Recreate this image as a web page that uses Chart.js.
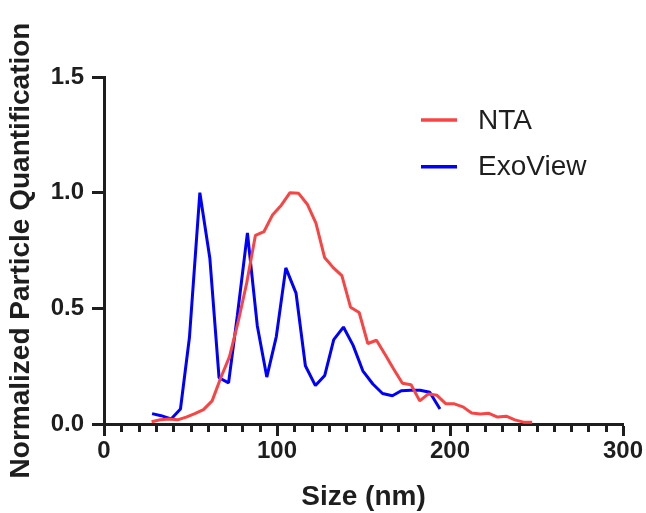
<!DOCTYPE html>
<html>
<head>
<meta charset="utf-8">
<script src="https://cdn.jsdelivr.net/npm/chart.js@4/dist/chart.umd.min.js"></script>
<style>
  body { margin: 0; background: #fff; }
  #wrap { width: 646px; height: 513px; }
</style>
</head>
<body>
<div id="wrap"><canvas id="chart" width="646" height="513"></canvas></div>
<script>
// NTA size distribution (5 nm bins)
var ntaSize = [27.5, 32.5, 37.5, 42.5, 47.5, 52.5, 57.5, 62.5, 67.5, 72.5, 77.5, 82.5, 87.5, 92.5, 97.5,
  102.5, 107.5, 112.5, 117.5, 122.5, 127.5, 132.5, 137.5, 142.5, 147.5, 152.5, 157.5, 162.5, 167.5, 172.5,
  177.5, 182.5, 187.5, 192.5, 197.5, 202.5, 207.5, 212.5, 217.5, 222.5, 227.5, 232.5, 237.5, 242.5, 247.5];
var ntaValue = [0.01, 0.018, 0.022, 0.018, 0.03, 0.045, 0.062, 0.1, 0.2, 0.29, 0.44, 0.61, 0.815, 0.832, 0.905,
  0.946, 1.0, 0.997, 0.95, 0.868, 0.72, 0.676, 0.641, 0.505, 0.482, 0.348, 0.362, 0.3, 0.237, 0.176,
  0.17, 0.1, 0.13, 0.124, 0.088, 0.087, 0.074, 0.048, 0.043, 0.046, 0.03, 0.034, 0.018, 0.008, 0.008];

// ExoView size distribution
var exoSize = [27.8, 33, 38.8, 44.2, 49.4, 55.4, 61.2, 66.5, 72, 77.1, 82.9, 88.6, 94.1, 99.6, 105.1,
  111, 116.4, 122.2, 127.6, 132.8, 138.4, 144, 149.6, 155.4, 161, 166.7, 171.8, 177.3, 182.7, 188.3, 194.2];
var exoValue = [0.045, 0.036, 0.022, 0.065, 0.375, 1.0, 0.715, 0.2, 0.178, 0.47, 0.826, 0.425, 0.203, 0.378, 0.675,
  0.566, 0.252, 0.166, 0.21, 0.365, 0.419, 0.34, 0.23, 0.173, 0.132, 0.122, 0.144, 0.146, 0.146, 0.137, 0.065];

var xTicks = [0, 100, 200, 300];
var yTicks = [0, 0.5, 1.0, 1.5];

function points(xs, ys) {
  var out = [];
  for (var i = 0; i < xs.length; i++) {
    out.push({ x: xs[i], y: ys[i] });
  }
  return out;
}

var ink = "#1e1e1e";
var fam = "'Liberation Sans', Arial, sans-serif";

// minor x ticks every 10 nm
var minorTicks = {
  id: "minorTicks",
  afterDraw: function(chart) {
    var ctx = chart.ctx;
    var xs = chart.scales.x;
    var bottom = chart.chartArea.bottom;
    ctx.save();
    ctx.strokeStyle = ink;
    ctx.lineWidth = 3;
    for (var v = 10; v < 300; v += 10) {
      if (v % 100 == 0) continue;
      var px = Math.round(xs.getPixelForValue(v)) + 0.5;
      ctx.beginPath();
      ctx.moveTo(px, bottom);
      ctx.lineTo(px, bottom + 8);
      ctx.stroke();
    }
    ctx.restore();
  }
};

// legend drawn inside the plot, upper right
var innerLegend = {
  id: "innerLegend",
  afterDraw: function(chart) {
    var ctx = chart.ctx;
    var sets = chart.data.datasets;
    ctx.save();
    ctx.font = "28px " + fam;
    ctx.textBaseline = "middle";
    ctx.textAlign = "left";
    for (var i = 0; i < sets.length; i++) {
      var y = 120 + i * 46.7;
      ctx.strokeStyle = sets[i].borderColor;
      ctx.lineWidth = 3.5;
      ctx.beginPath();
      ctx.moveTo(421, y);
      ctx.lineTo(457, y);
      ctx.stroke();
      ctx.fillStyle = ink;
      ctx.fillText(sets[i].label, 478, y + 1);
    }
    ctx.restore();
  }
};

var ctx = document.getElementById("chart");

var chart = new Chart(ctx, {
  type: "line",
  data: {
    datasets: [
      {
        label: "NTA",
        data: points(ntaSize, ntaValue),
        borderColor: "#fa4444",
        backgroundColor: "#fa4444",
        borderWidth: 3,
        borderJoinStyle: "bevel",
        fill: false,
        tension: 0,
        pointRadius: 0
      },
      {
        label: "ExoView",
        data: points(exoSize, exoValue),
        borderColor: "#0000ff",
        backgroundColor: "#0000ff",
        borderWidth: 3,
        borderJoinStyle: "bevel",
        fill: false,
        tension: 0,
        pointRadius: 0
      }
    ]
  },
  options: {
    responsive: false,
    animation: false,
    layout: { padding: { left: 0, top: 77, right: 23, bottom: 0 } },
    plugins: {
      legend: { display: false },
      title: { display: false },
      tooltip: { enabled: false }
    },
    scales: {
      x: {
        type: "linear",
        min: 0,
        max: 300,
        afterFit: function(s) { s.height = 89; },
        afterBuildTicks: function(s) { s.ticks = xTicks.map(function(v) { return { value: v }; }); },
        grid: { display: true, drawOnChartArea: false, drawTicks: true, tickLength: 12, tickWidth: 3, color: ink },
        border: { display: true, width: 3, color: ink },
        ticks: {
          color: ink,
          padding: 1,
          maxRotation: 0,
          font: { family: fam, size: 24, weight: "bold" }
        },
        title: {
          display: true,
          text: "Size (nm)",
          color: ink,
          padding: { top: 0, bottom: 0 },
          font: { family: fam, size: 28, weight: "bold", lineHeight: 1.1 }
        }
      },
      y: {
        min: 0,
        max: 1.5,
        afterFit: function(s) { s.width = 104; },
        afterBuildTicks: function(s) { s.ticks = yTicks.map(function(v) { return { value: v }; }); },
        grid: { display: true, drawOnChartArea: false, drawTicks: true, tickLength: 12, tickWidth: 3, color: ink },
        border: { display: true, width: 3, color: ink },
        ticks: {
          color: ink,
          padding: 8,
          callback: function(v) { return Number(v).toFixed(1); },
          font: { family: fam, size: 24, weight: "bold" }
        },
        title: {
          display: true,
          text: "Normalized Particle Quantification",
          color: ink,
          padding: { top: 4, bottom: 0 },
          font: { family: fam, size: 28, weight: "bold" }
        }
      }
    }
  },
  plugins: [minorTicks, innerLegend]
});
</script>
</body>
</html>
